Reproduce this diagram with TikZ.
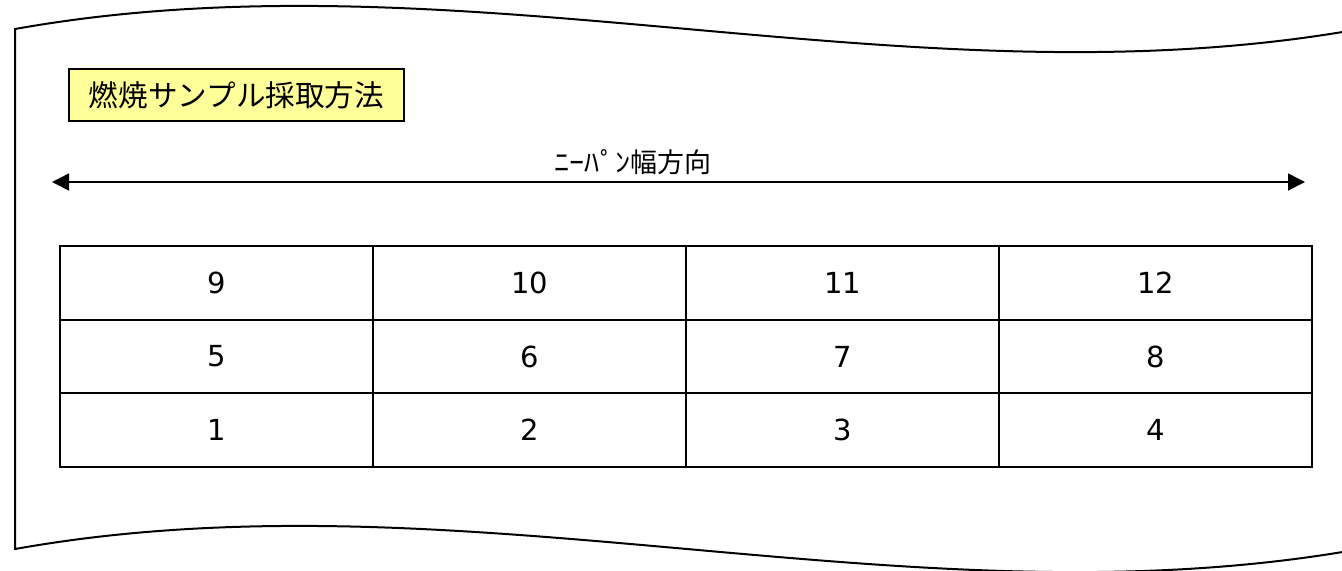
\documentclass[tikz,border=0pt]{standalone}
\usepackage{fontspec}
\setmainfont{Noto Sans CJK JP}
\newfontfamily\numfont{DejaVu Sans}
\usetikzlibrary{arrows.meta,positioning}
\definecolor{notefill}{RGB}{255,255,153}

\begin{document}
\begin{tikzpicture}[x=0.5pt,y=-0.5pt,
  cell/.style={draw, line width=1pt, minimum width=156.5pt, minimum height=36.83pt,
    inner sep=0pt, outer sep=0pt, font=\numfont\fontsize{14.5pt}{16pt}\selectfont},
  titlebox/.style={draw, line width=.7pt, fill=notefill, minimum width=167.5pt,
    minimum height=26pt, inner sep=0pt, font=\fontsize{14.8pt}{16pt}\selectfont},
  widtharrow/.style={{Triangle[length=8.5pt,width=8.5pt]}-{Triangle[length=8.5pt,width=8.5pt]}, line width=.75pt}]
\useasboundingbox (0,0) rectangle (1342,570);

% SHEET OUTLINE
\begin{scope}
\clip (0,0) rectangle (1342,570);
\draw[line width=1pt] (15,29) .. controls (463,-51) and (911,109) .. (1360,29)
  -- (1360,549) .. controls (911,629) and (463,469) .. (15,549) -- cycle;
\end{scope}

% TITLE
\node[titlebox] (title) at (236.5,95) {燃焼サンプル採取方法};

% WIDTH DIRECTION
\coordinate (wl) at (52,182);
\coordinate (wr) at (1305,182);
\draw[widtharrow] (wl) -- (wr);
\node[font=\fontsize{13.5pt}{15pt}\selectfont] (widthlabel) at (633,162)
  {\scalebox{1.12}[1]{ﾆｰﾊﾟﾝ}幅方向};

% SAMPLE GRID
\foreach \row in {0,1,2}
  \foreach \col in {1,...,4} {
    \pgfmathtruncatemacro\num{4*(2-\row)+\col}
    \node[cell] (cell\num) at ({60+313*(\col-.5)},{246+73.67*(\row+.5)}) {\num};
  }
\end{tikzpicture}
\end{document}
